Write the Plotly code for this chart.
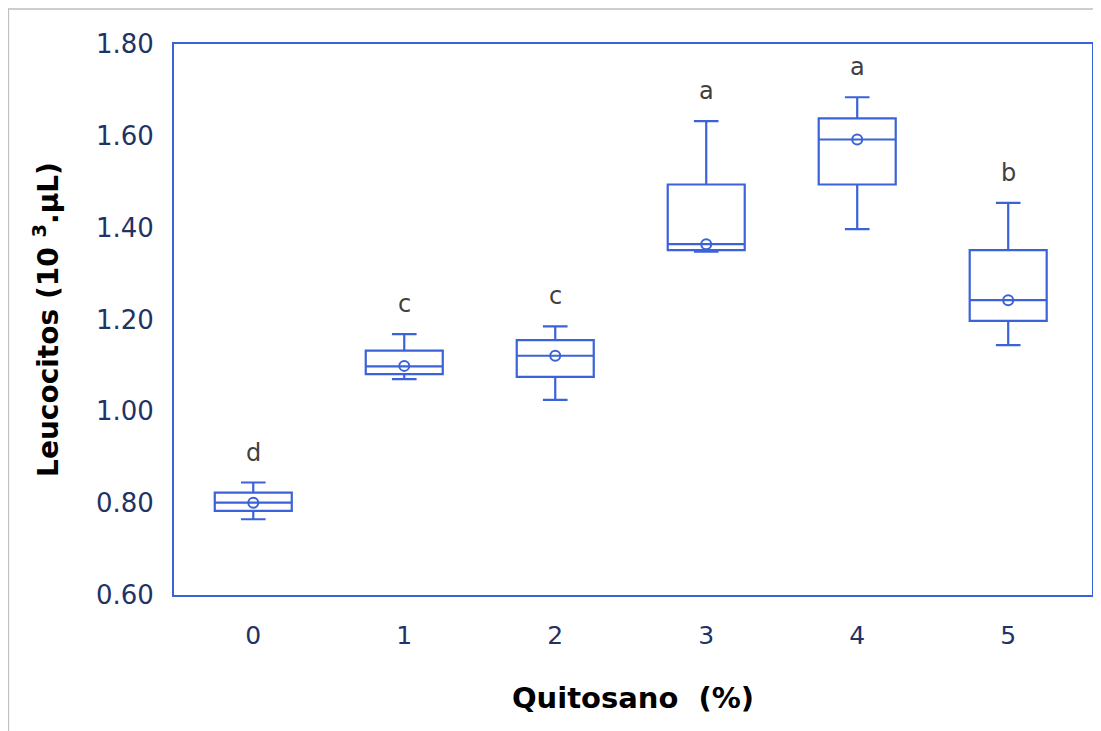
import plotly.graph_objects as go

# Data
categories = [0, 1, 2, 3, 4, 5]
lower_whisker = [0.765, 1.070, 1.025, 1.348, 1.397, 1.144]
q1 = [0.783, 1.081, 1.075, 1.351, 1.494, 1.197]
median = [0.801, 1.098, 1.121, 1.364, 1.592, 1.242]
q3 = [0.823, 1.132, 1.155, 1.494, 1.638, 1.351]
upper_whisker = [0.845, 1.168, 1.185, 1.632, 1.684, 1.454]
means = [0.801, 1.099, 1.121, 1.364, 1.592, 1.242]
letters = ["d", "c", "c", "a", "a", "b"]
y_ticks = [0.60, 0.80, 1.00, 1.20, 1.40, 1.60, 1.80]

BLUE = "#3B62D9"
TICK = "#1F3366"

# page body has an 8px margin, so the figure is offset by 8px
W, H = 1093, 723
L, R, T, B = 166, 7, 36, 136
pw = W - L - R
ph = H - T - B

fig = go.Figure()

fig.add_trace(go.Box(
    x=categories,
    q1=q1, median=median, q3=q3,
    lowerfence=lower_whisker, upperfence=upper_whisker,
    width=0.51,
    whiskerwidth=0.32,
    line=dict(color=BLUE, width=2.2),
    fillcolor="rgba(0,0,0,0)",
    boxpoints=False,
    showlegend=False,
    hoverinfo="skip",
))

fig.add_trace(go.Scatter(
    x=categories, y=means, mode="markers",
    marker=dict(symbol="circle-open", size=10, color=BLUE, line=dict(width=2, color=BLUE)),
    showlegend=False, hoverinfo="skip",
))

for xc, yw, lab in zip(categories, upper_whisker, letters):
    fig.add_annotation(
        x=xc, y=yw, text=lab, showarrow=False,
        yanchor="middle", yshift=30,
        font=dict(family="DejaVu Sans", size=24, color="#404040"),
    )

# outer gray frame (left and top edges)
fig.add_shape(
    type="rect", xref="paper", yref="paper",
    x0=(0 - L) / pw, x1=(W + 20 - L) / pw,
    y0=-(H + 20 - T - ph) / ph, y1=(T + ph - 1) / ph,
    line=dict(color="#BFBFBF", width=1.5), fillcolor="rgba(0,0,0,0)", layer="below",
)

fig.update_layout(
    width=W, height=H,
    margin=dict(l=L, r=R, t=T, b=B),
    paper_bgcolor="white", plot_bgcolor="white",
    xaxis=dict(
        range=[-0.525, 5.555],
        tickmode="array", tickvals=categories, ticktext=[str(c) for c in categories],
        tickfont=dict(family="DejaVu Sans", size=25, color=TICK),
        showgrid=False, zeroline=False,
        showline=True, linecolor=BLUE, linewidth=2, mirror=True,
        ticks="", ticklabelstandoff=17,
        title=dict(text="Quitosano&nbsp; (%)", font=dict(family="DejaVu Sans", size=29, color="black", weight="bold"), standoff=39),
    ),
    yaxis=dict(
        range=[0.6, 1.8],
        tickmode="array", tickvals=y_ticks, ticktext=[f"{v:.2f}" for v in y_ticks],
        tickfont=dict(family="DejaVu Sans", size=26, color=TICK),
        showgrid=False, zeroline=False,
        showline=True, linecolor=BLUE, linewidth=2, mirror=True,
        ticks="", ticklabelstandoff=13,
        title=dict(text="Leucocitos (10 <sup>3</sup>.µL)", font=dict(family="DejaVu Sans", size=28, color="black", weight="bold"), standoff=29),
    ),
)

fig.write_html("out.html")
